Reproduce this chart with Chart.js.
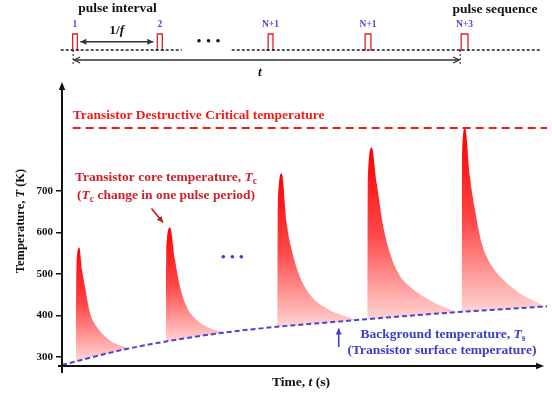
<!DOCTYPE html>
<html>
<head>
<meta charset="utf-8">
<script src="https://cdn.jsdelivr.net/npm/chart.js@4.4.1/dist/chart.umd.min.js"></script>
<style>
  html, body { margin: 0; padding: 0; background: #fff; }
</style>
</head>
<body>
<canvas id="chart" width="552" height="396"></canvas>
<script>
// time in arbitrary units (0..100), temperature in K
const yTicks = [300, 400, 500, 600, 700];
const criticalTemp = 852;
const criticalLine = [[2.2, criticalTemp], [100, criticalTemp]];

// background (surface) temperature Ts
const bgTemp = [[0, 281], [14, 321], [33.6, 359], [60.76, 389], [81.38, 408], [100, 422]];

// core temperature Tc, one array per pulse
const pulse1 = [[2.89, 292], [3.0, 526], [3.57, 564], [4.12, 510], [4.74, 469], [5.77, 406], [7.15, 373], [9.22, 346], [11.6, 329], [14.0, 321]];
const pulse2 = [[21.44, 336], [21.5, 566], [22.27, 612], [23.3, 534], [24.33, 469], [25.71, 421], [27.77, 389], [30.52, 369], [33.6, 359]];
const pulse3 = [[44.39, 371], [44.45, 662], [45.3, 743], [46.33, 622], [47.36, 558], [49.07, 493], [51.48, 445], [54.58, 417], [57.67, 401], [60.76, 389]];
const pulse4 = [[62.95, 391], [63.01, 719], [63.86, 805], [64.89, 719], [66.25, 614], [67.63, 550], [69.34, 502], [71.75, 469], [75.2, 441], [78.62, 421], [81.38, 408]];
const pulse5 = [[82.41, 409], [82.47, 775], [83.09, 853], [84.12, 734], [85.15, 654], [86.54, 574], [88.25, 526], [90.99, 486], [94.43, 453], [97.18, 436], [99.59, 421]];

// pulse sequence sketch on top
const seqLabels = ['1', '2', 'N+1', 'N+1', 'N+3'];
const seqStart = [2.2, 19.65, 42.5, 62.5, 82.3];
const seqEnd = [3.16, 20.68, 43.5, 63.7, 83.7];
const seqBase = [[-0.27, 24.68], [35.0, 98.8]];

const FONT = '"Liberation Serif", "Times New Roman", serif';

function toPts(arr) {
  return arr.map(p => ({ x: p[0], y: p[1] }));
}

function seqPoints() {
  const pts = [];
  seqStart.forEach((s, i) => {
    const e = seqEnd[i];
    pts.push({ x: s - 0.35, y: 0 }, { x: s, y: 0 }, { x: s, y: 1 }, { x: e, y: 1 }, { x: e, y: 0 }, { x: e + 0.35, y: 0 });
    pts.push({ x: e + 0.4, y: null });
  });
  return pts;
}

function basePoints() {
  const pts = [];
  seqBase.forEach(seg => {
    pts.push({ x: seg[0], y: 0 }, { x: seg[1], y: 0 }, { x: seg[1] + 0.1, y: null });
  });
  return pts;
}

function pulseFill(context) {
  const chart = context.chart;
  const { ctx, chartArea, scales } = chart;
  if (!chartArea) return 'rgba(255,60,60,0.8)';
  const ys = chart.data.datasets[context.datasetIndex].data.map(p => p.y);
  const top = scales.y.getPixelForValue(Math.max(...ys));
  const bot = scales.y.getPixelForValue(Math.min(...ys));
  const g = ctx.createLinearGradient(0, top, 0, bot);
  g.addColorStop(0, 'rgb(255,0,0)');
  g.addColorStop(0.5, 'rgb(255,70,70)');
  g.addColorStop(1, 'rgb(255,212,212)');
  return g;
}

function pulseSet(arr) {
  return {
    data: toPts(arr),
    borderColor: 'rgba(0,0,0,0)',
    borderWidth: 0,
    backgroundColor: pulseFill,
    fill: 1,
    cubicInterpolationMode: 'monotone',
    pointRadius: 0,
    order: 2
  };
}

function rich(ctx, parts, x, y, align, size, color) {
  const fontFor = s => (s === 'i' ? 'italic bold ' : 'bold ') + (s === 'sub' ? size * 0.7 : size) + 'px ' + FONT;
  let w = 0;
  parts.forEach(p => { ctx.font = fontFor(p[1]); w += ctx.measureText(p[0]).width; });
  let cx = align === 'center' ? x - w / 2 : x;
  ctx.fillStyle = color;
  ctx.textAlign = 'left';
  ctx.textBaseline = 'middle';
  parts.forEach(p => {
    ctx.font = fontFor(p[1]);
    ctx.fillText(p[0], cx, p[1] === 'sub' ? y + size * 0.3 : y);
    cx += ctx.measureText(p[0]).width;
  });
}

function head(ctx, x, y, ang, len, wid, open) {
  ctx.beginPath();
  ctx.moveTo(x - len * Math.cos(ang) + wid * Math.sin(ang), y - len * Math.sin(ang) - wid * Math.cos(ang));
  ctx.lineTo(x, y);
  ctx.lineTo(x - len * Math.cos(ang) - wid * Math.sin(ang), y - len * Math.sin(ang) + wid * Math.cos(ang));
  if (open) {
    ctx.stroke();
  } else {
    ctx.closePath();
    ctx.fill();
  }
}

function arrow(ctx, x1, y1, x2, y2, color, width, both, open) {
  const ang = Math.atan2(y2 - y1, x2 - x1);
  ctx.strokeStyle = color;
  ctx.fillStyle = color;
  ctx.lineWidth = width;
  ctx.setLineDash([]);
  ctx.beginPath();
  ctx.moveTo(x1, y1);
  ctx.lineTo(x2, y2);
  ctx.stroke();
  head(ctx, x2, y2, ang, 6, 3, open);
  if (both) head(ctx, x1, y1, ang + Math.PI, 6, 3, open);
}

const notes = {
  id: 'notes',
  afterDraw(chart) {
    const { ctx, chartArea, scales: { x, y, y2 } } = chart;
    const left = chartArea.left, bottom = chartArea.bottom;
    ctx.save();

    // axes
    ctx.strokeStyle = '#111';
    ctx.fillStyle = '#111';
    ctx.lineWidth = 2;
    ctx.beginPath();
    ctx.moveTo(left, bottom + 7);
    ctx.lineTo(left, 88);
    ctx.moveTo(left - 4, bottom);
    ctx.lineTo(538, bottom);
    ctx.stroke();
    head(ctx, left, 82, -Math.PI / 2, 8, 3.2, false);
    head(ctx, 544, bottom, 0, 8, 3.2, false);

    // axis titles
    rich(ctx, [['Time, ', ''], ['t', 'i'], [' (s)', '']], 301, 383, 'center', 13.5, '#111');
    ctx.save();
    ctx.translate(21, 221);
    ctx.rotate(-Math.PI / 2);
    rich(ctx, [['Temperature, ', ''], ['T', 'i'], [' (K)', '']], 0, 0, 'center', 12.5, '#111');
    ctx.restore();

    // top: pulse sequence sketch
    const base = y2.getPixelForValue(0);
    rich(ctx, [['pulse interval', '']], 117.5, 9, 'center', 13.5, '#111');
    rich(ctx, [['pulse sequence', '']], 495, 9.5, 'center', 13.5, '#111');
    seqLabels.forEach((t, i) => {
      const cx = x.getPixelForValue((seqStart[i] + seqEnd[i]) / 2);
      rich(ctx, [[t, '']], cx, 25, 'center', 9.5, '#4848e0');
    });
    const e1 = x.getPixelForValue(seqEnd[0]) + 3;
    const s2 = x.getPixelForValue(seqStart[1]) - 4;
    arrow(ctx, e1, 41.7, s2, 41.7, '#333', 1.5, true, false);
    rich(ctx, [['1/', ''], ['f', 'i']], (e1 + s2) / 2, 31, 'center', 13.5, '#111');
    ctx.fillStyle = '#111';
    [199, 208.5, 218].forEach(px => { ctx.beginPath(); ctx.arc(px, 40.7, 1.8, 0, Math.PI * 2); ctx.fill(); });

    const ta = x.getPixelForValue(seqStart[0]) + 0.5;
    const tb = x.getPixelForValue(seqStart[4]) - 1;
    arrow(ctx, ta + 1, 60, tb - 1, 60, '#333', 1.3, true, true);
    ctx.strokeStyle = '#111';
    ctx.lineWidth = 1;
    ctx.setLineDash([2, 2]);
    ctx.beginPath();
    ctx.moveTo(ta, base); ctx.lineTo(ta, 66);
    ctx.moveTo(tb, base); ctx.lineTo(tb, 66);
    ctx.stroke();
    ctx.setLineDash([]);
    rich(ctx, [['t', 'i']], 260, 73, 'center', 13.5, '#111');

    // main chart notes
    rich(ctx, [['Transistor Destructive Critical temperature', '']], x.getPixelForValue(criticalLine[0][0]), 116, 'left', 13.5, '#ee1c1c');
    rich(ctx, [['Transistor core temperature, ', ''], ['T', 'i'], ['c', 'sub']], 166, 178, 'center', 13.5, '#d0202a');
    rich(ctx, [['(', ''], ['T', 'i'], ['c', 'sub'], [' change in one pulse period)', '']], 166, 196, 'center', 13.5, '#d0202a');
    arrow(ctx, 151.5, 208.5, 163, 222.5, '#c01818', 1.6, false, false);

    ctx.fillStyle = '#3c3cd8';
    [223.3, 232.3, 241.3].forEach(px => { ctx.beginPath(); ctx.arc(px, 256.7, 1.8, 0, Math.PI * 2); ctx.fill(); });

    arrow(ctx, 338.7, 347, 338.7, 328.5, '#3c3cd0', 1.6, false, false);
    rich(ctx, [['Background temperature, ', ''], ['T', 'i'], ['s', 'sub']], 443, 335, 'center', 13.5, '#3c3cc8');
    rich(ctx, [['(Transistor surface temperature)', '']], 442, 351, 'center', 13.5, '#3c3cc8');

    ctx.restore();
  }
};

new Chart(document.getElementById('chart'), {
  type: 'line',
  data: {
    datasets: [
      {
        data: toPts(criticalLine),
        borderColor: '#f01c1c',
        borderWidth: 2,
        borderDash: [8, 5],
        pointRadius: 0,
        fill: false,
        clip: false,
        order: 1
      },
      {
        data: toPts(bgTemp),
        borderColor: '#4646d6',
        borderWidth: 2,
        borderDash: [5, 3],
        pointRadius: 0,
        fill: false,
        cubicInterpolationMode: 'monotone',
        order: 1
      },
      pulseSet(pulse1),
      pulseSet(pulse2),
      pulseSet(pulse3),
      pulseSet(pulse4),
      pulseSet(pulse5),
      {
        data: basePoints(),
        yAxisID: 'y2',
        borderColor: '#222',
        borderWidth: 1.3,
        borderDash: [3, 2],
        pointRadius: 0,
        fill: false,
        spanGaps: false,
        clip: false,
        order: 0
      },
      {
        data: seqPoints(),
        yAxisID: 'y2',
        borderColor: '#e02020',
        borderWidth: 1.3,
        pointRadius: 0,
        fill: false,
        spanGaps: false,
        clip: false,
        order: 0
      }
    ]
  },
  options: {
    responsive: false,
    animation: false,
    layout: { padding: { left: 0, right: 5, top: 0, bottom: 30 } },
    plugins: { legend: { display: false }, tooltip: { enabled: false } },
    scales: {
      x: { type: 'linear', min: 0, max: 100, display: false },
      y: {
        min: 278.3,
        max: 1160.2,
        afterBuildTicks: s => { s.ticks = yTicks.map(v => ({ value: v })); },
        afterFit: s => { s.width = 62; s.paddingTop = 0; s.paddingBottom = 0; },
        grid: { drawOnChartArea: false, tickLength: 6, color: '#111', lineWidth: 1.5 },
        border: { display: false },
        ticks: { color: '#111', padding: 3, font: { family: FONT, size: 11, weight: 'bold' } }
      },
      y2: { min: -19.75, max: 3.125, display: false }
    }
  },
  plugins: [notes]
});
</script>
</body>
</html>
